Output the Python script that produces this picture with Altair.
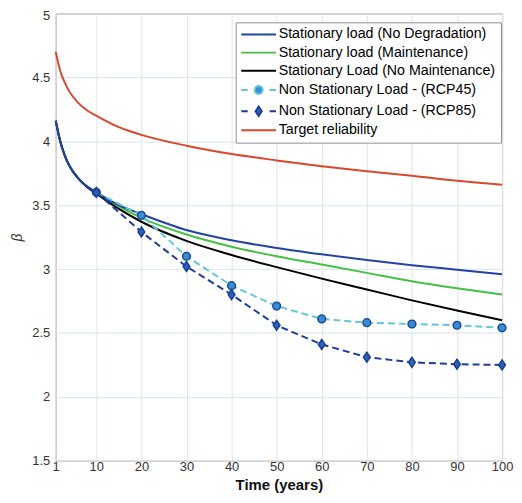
import altair as alt
import pandas as pd

# ---- data ----
t_curve = [1, 2, 3, 4, 6, 8, 10, 15, 20, 30, 40, 50, 60, 70, 80, 90, 100]
beta_no_degradation = [4.16, 4.00, 3.89, 3.81, 3.71, 3.645, 3.60, 3.50, 3.43, 3.305, 3.225, 3.165, 3.115, 3.07, 3.03, 2.995, 2.96]
beta_maintenance = [4.16, 4.00, 3.89, 3.81, 3.71, 3.645, 3.60, 3.49, 3.40, 3.27, 3.175, 3.10, 3.035, 2.97, 2.905, 2.85, 2.80]
beta_no_maintenance = [4.16, 4.00, 3.89, 3.81, 3.71, 3.64, 3.59, 3.47, 3.37, 3.22, 3.11, 3.015, 2.925, 2.84, 2.755, 2.675, 2.60]
beta_target = [4.70, 4.55, 4.46, 4.39, 4.30, 4.24, 4.20, 4.11, 4.05, 3.965, 3.90, 3.85, 3.805, 3.765, 3.73, 3.69, 3.66]

t_marker = [10, 20, 30, 40, 50, 60, 70, 80, 90, 100]
beta_rcp45 = [3.60, 3.42, 3.10, 2.87, 2.71, 2.61, 2.58, 2.57, 2.56, 2.54]
beta_rcp85 = [3.60, 3.29, 3.02, 2.80, 2.56, 2.41, 2.31, 2.27, 2.255, 2.25]

series_names = [
    "Stationary load (No Degradation)",
    "Stationary load (Maintenance)",
    "Stationary Load (No Maintenance)",
    "Non Stationary Load - (RCP45)",
    "Non Stationary Load - (RCP85)",
    "Target reliability",
]
line_colors = ["#2342a8", "#44c144", "#000000", "#62c6d8", "#1e3e9a", "#d9482b"]
legend_fills = ["transparent", "transparent", "transparent", "#3a8cd4", "#2b62b8", "transparent"]
legend_paths = [
    "M-3.5,0L3.5,0",
    "M-3.5,0L3.5,0",
    "M-3.5,0L3.5,0",
    "M-3.5,0L-2.2,0M0.8,0A0.8,0.8,0,1,1,-0.8,0A0.8,0.8,0,1,1,0.8,0ZM2.2,0L3.5,0",
    "M-3.5,0L-2.2,0M0,-0.95L0.62,0L0,0.95L-0.62,0ZM2.2,0L3.5,0",
    "M-3.5,0L3.5,0",
]

x_ticks = [1, 10, 20, 30, 40, 50, 60, 70, 80, 90, 100]
y_ticks = [1.5, 2, 2.5, 3, 3.5, 4, 4.5, 5]

# ---- tables ----
def table(ts, values, name):
    return pd.DataFrame({"t": ts, "beta": values, "series": name})

df_nodeg = table(t_curve, beta_no_degradation, series_names[0])
df_maint = table(t_curve, beta_maintenance, series_names[1])
df_nomaint = table(t_curve, beta_no_maintenance, series_names[2])
df_rcp45 = table(t_marker, beta_rcp45, series_names[3])
df_rcp85 = table(t_marker, beta_rcp85, series_names[4])
df_target = table(t_curve, beta_target, series_names[5])
everything = pd.concat([df_nodeg, df_maint, df_nomaint, df_rcp45, df_rcp85, df_target], ignore_index=True)

frame = "#9c7a74"
grid = "#dbe5ea"
font = "Liberation Sans"

x_enc = alt.X("t:Q", scale=alt.Scale(domain=[1, 100], nice=False, zero=False),
              axis=alt.Axis(values=x_ticks, title="Time (years)", grid=True, ticks=False,
                            domain=False, labelPadding=0, labelFlush=False,
                            titleY=24, titleBaseline="middle",
                            titleFontSize=15, titleFontWeight="bold", titleColor="#111"))
y_enc = alt.Y("beta:Q", scale=alt.Scale(domain=[1.5, 5], nice=False, zero=False),
              axis=alt.Axis(values=y_ticks, format="~g", title="β", grid=True, ticks=False,
                            domain=False, labelPadding=6, labelFlush=False,
                            labelOffset=alt.condition("datum.value == 5", alt.value(2), alt.value(0)),
                            titleX=-38, titleY=225,
                            titleAngle=270, titleAlign="center", titleBaseline="middle",
                            titleFontSize=14, titleFontStyle="italic", titleFontWeight="normal",
                            titleColor="#333"))


def solid_line(df, color):
    return alt.Chart(df).mark_line(interpolate="monotone", strokeWidth=2, color=color).encode(
        x=x_enc, y=y_enc)


def dashed_line(df, color):
    return alt.Chart(df).mark_line(strokeWidth=2, strokeDash=[7, 4], color=color).encode(
        x="t:Q", y="beta:Q")


circles = alt.Chart(df_rcp45).mark_point(shape="circle", filled=True, size=60, fill="#3a8cd4",
                                         stroke="#1a4a9a", strokeWidth=1.5, opacity=1).encode(
    x="t:Q", y="beta:Q")
diamonds = alt.Chart(df_rcp85).mark_point(shape="M0,-1L0.68,0L0,1L-0.68,0Z", filled=True, size=100,
                                          fill="#2b62b8", stroke="#1a3f92", strokeWidth=1.5,
                                          opacity=1).encode(
    x="t:Q", y="beta:Q")

legend_layer = alt.Chart(everything).mark_point(opacity=0, strokeWidth=2).encode(
    x="t:Q", y="beta:Q",
    stroke=alt.Stroke("series:N", scale=alt.Scale(domain=series_names, range=line_colors),
                      legend=alt.Legend(title=None)),
    fill=alt.Fill("series:N", scale=alt.Scale(domain=series_names, range=legend_fills),
                  legend=alt.Legend(title=None)),
    shape=alt.Shape("series:N", scale=alt.Scale(domain=series_names, range=legend_paths),
                    legend=alt.Legend(title=None)),
)

chart = alt.layer(
    solid_line(df_maint, line_colors[1]),
    solid_line(df_nomaint, line_colors[2]),
    solid_line(df_nodeg, line_colors[0]),
    solid_line(df_target, line_colors[5]),
    dashed_line(df_rcp45, line_colors[3]),
    dashed_line(df_rcp85, line_colors[4]),
    circles, diamonds, legend_layer,
).properties(
    width=449, height=450,
    autosize=alt.AutoSizeParams(type="none"),
    padding={"left": 48, "top": 4, "right": 12, "bottom": 33},
    background="white",
).configure_view(
    stroke=frame, strokeWidth=1,
).configure_axis(
    gridColor=grid, gridWidth=1, labelFont=font, labelFontSize=13, labelColor="#333",
    titleFont=font,
).configure_legend(
    orient="none", legendX=181, legendY=9,
    labelFont=font, labelFontSize=14.3, labelColor="#000", labelLimit=0,
    symbolSize=100, symbolStrokeWidth=2, symbolOffset=11, labelOffset=13,
    symbolOpacity=1, padding=5, rowPadding=3.3,
    strokeColor="#8f8c98", fillColor="white", cornerRadius=0,
)

chart.save("out.html", embed_options={"renderer": "svg", "actions": False})
